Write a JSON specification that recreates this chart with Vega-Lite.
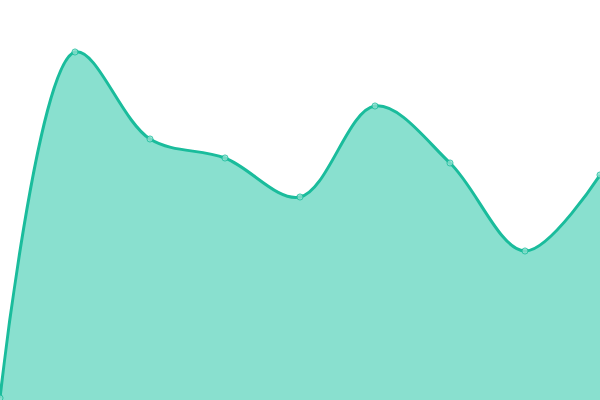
{
  "$schema": "https://vega.github.io/schema/vega-lite/v6.json",
  "description": "Smooth teal area chart with point markers, no axes.",
  "width": 600,
  "height": 400,
  "autosize": {"type": "none"},
  "padding": 0,
  "background": "white",
  "config": {"view": {"stroke": null}},
  "data": {
    "values": [
      {"i": 0, "v": 2},
      {"i": 1, "v": 348},
      {"i": 2, "v": 261},
      {"i": 3, "v": 242},
      {"i": 4, "v": 203},
      {"i": 5, "v": 294},
      {"i": 6, "v": 237},
      {"i": 7, "v": 149},
      {"i": 8, "v": 225}
    ]
  },
  "encoding": {
    "x": {"field": "i", "type": "quantitative", "axis": null, "scale": {"domain": [0, 8], "nice": false}},
    "y": {"field": "v", "type": "quantitative", "axis": null, "scale": {"domain": [0, 400], "nice": false}}
  },
  "layer": [
    {
      "mark": {"type": "area", "interpolate": "catmull-rom", "color": "#89e0cf", "opacity": 1}
    },
    {
      "mark": {"type": "line", "interpolate": "catmull-rom", "color": "#1abc9c", "strokeWidth": 3}
    },
    {
      "mark": {"type": "point", "filled": false, "size": 38, "fill": "#8ce0cf", "fillOpacity": 1, "stroke": "#1abc9c", "strokeWidth": 1, "opacity": 0.8}
    }
  ]
}
